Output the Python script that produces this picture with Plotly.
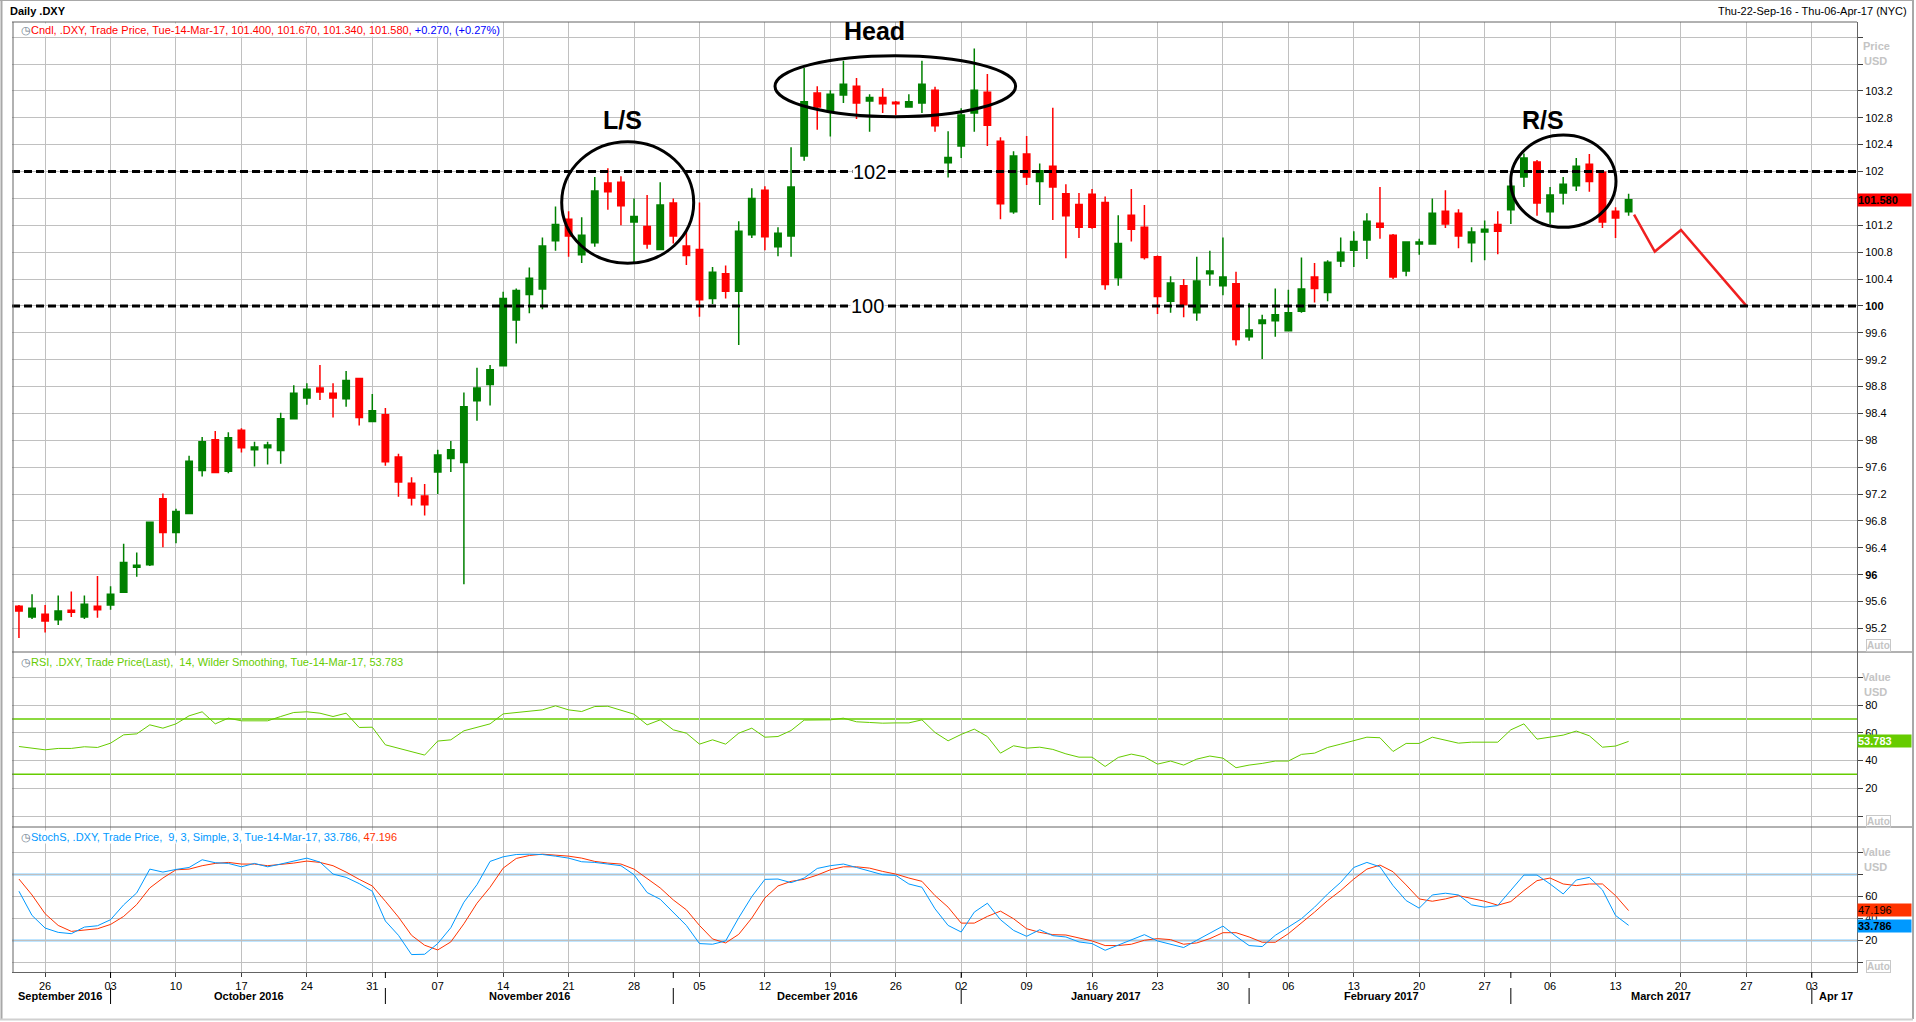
import pandas as pd
import plotly.graph_objects as go

# ---------------- data ----------------
dates = [
    "2016-09-22", "2016-09-23", "2016-09-26", "2016-09-27", "2016-09-28", "2016-09-29", "2016-09-30",
    "2016-10-03", "2016-10-04", "2016-10-05", "2016-10-06", "2016-10-07", "2016-10-10", "2016-10-11",
    "2016-10-12", "2016-10-13", "2016-10-14", "2016-10-17", "2016-10-18", "2016-10-19", "2016-10-20",
    "2016-10-21", "2016-10-24", "2016-10-25", "2016-10-26", "2016-10-27", "2016-10-28", "2016-10-31",
    "2016-11-01", "2016-11-02", "2016-11-03", "2016-11-04", "2016-11-07", "2016-11-08", "2016-11-09",
    "2016-11-10", "2016-11-11", "2016-11-14", "2016-11-15", "2016-11-16", "2016-11-17", "2016-11-18",
    "2016-11-21", "2016-11-22", "2016-11-23", "2016-11-24", "2016-11-25", "2016-11-28", "2016-11-29",
    "2016-11-30", "2016-12-01", "2016-12-02", "2016-12-05", "2016-12-06", "2016-12-07", "2016-12-08",
    "2016-12-09", "2016-12-12", "2016-12-13", "2016-12-14", "2016-12-15", "2016-12-16", "2016-12-19",
    "2016-12-20", "2016-12-21", "2016-12-22", "2016-12-23", "2016-12-26", "2016-12-27", "2016-12-28",
    "2016-12-29", "2016-12-30", "2017-01-02", "2017-01-03", "2017-01-04", "2017-01-05", "2017-01-06",
    "2017-01-09", "2017-01-10", "2017-01-11", "2017-01-12", "2017-01-13", "2017-01-16", "2017-01-17",
    "2017-01-18", "2017-01-19", "2017-01-20", "2017-01-23", "2017-01-24", "2017-01-25", "2017-01-26",
    "2017-01-27", "2017-01-30", "2017-01-31", "2017-02-01", "2017-02-02", "2017-02-03", "2017-02-06",
    "2017-02-07", "2017-02-08", "2017-02-09", "2017-02-10", "2017-02-13", "2017-02-14", "2017-02-15",
    "2017-02-16", "2017-02-17", "2017-02-20", "2017-02-21", "2017-02-22", "2017-02-23", "2017-02-24",
    "2017-02-27", "2017-02-28", "2017-03-01", "2017-03-02", "2017-03-03", "2017-03-06", "2017-03-07",
    "2017-03-08", "2017-03-09", "2017-03-10", "2017-03-13", "2017-03-14",
]

opens = [
    95.53, 95.37, 95.41, 95.33, 95.47, 95.37, 95.53, 95.55, 95.74, 96.11, 96.15, 97.13, 96.63, 96.91,
    97.55, 98.01, 97.54, 98.15, 97.86, 97.89, 97.85, 98.32, 98.63, 98.78, 98.70, 98.62, 98.92, 98.28,
    98.38, 97.75, 97.36, 97.17, 97.53, 97.73, 97.67, 98.59, 98.83, 99.11, 99.79, 100.17, 100.25, 100.97,
    101.29, 100.76, 100.94, 101.83, 101.84, 101.25, 101.18, 100.84, 101.53, 100.89, 100.84, 100.11,
    100.48, 100.22, 101.06, 101.72, 100.88, 101.04, 102.23, 103.17, 102.90, 103.14, 103.27, 103.05,
    103.10, 103.03, 102.96, 103.02, 103.21, 102.13, 102.38, 102.87, 103.18, 102.45, 101.40, 102.26,
    101.85, 102.08, 101.67, 101.51, 101.66, 101.54, 100.42, 101.35, 101.17, 100.73, 100.07, 100.30,
    99.90, 100.48, 100.30, 100.33, 99.54, 99.74, 99.78, 99.63, 99.92, 100.43, 100.20, 100.67, 100.83,
    100.98, 101.23, 101.05, 100.52, 100.92, 100.92, 101.41, 101.38, 100.94, 101.10, 101.21, 101.43,
    101.92, 102.14, 101.40, 101.68, 101.79, 102.11, 101.99, 101.41, 101.40,
]
highs = [
    95.55, 95.71, 95.55, 95.69, 95.75, 95.69, 95.98, 95.83, 96.46, 96.33, 96.79, 97.21, 96.98, 97.77,
    98.05, 98.14, 98.12, 98.18, 97.98, 97.98, 98.41, 98.82, 98.85, 99.12, 98.85, 99.03, 98.93, 98.69,
    98.48, 97.80, 97.45, 97.35, 97.86, 97.99, 98.71, 99.08, 99.12, 100.21, 100.26, 100.57, 101.02, 101.48,
    101.41, 101.32, 101.92, 102.05, 101.93, 101.60, 101.65, 101.84, 101.60, 101.10, 101.54, 100.58,
    100.60, 101.26, 101.75, 101.78, 101.17, 102.36, 103.54, 103.27, 103.21, 103.65, 103.39, 103.15,
    103.24, 103.05, 103.15, 103.65, 103.26, 102.60, 102.94, 103.83, 103.45, 102.51, 102.30, 102.53,
    102.12, 102.95, 101.81, 101.68, 101.74, 101.63, 101.35, 101.74, 101.50, 100.75, 100.44, 100.40,
    100.73, 100.82, 101.02, 100.51, 100.04, 99.87, 100.26, 100.24, 100.72, 100.64, 100.68, 101.02, 101.11,
    101.38, 101.77, 101.07, 100.96, 101.00, 101.60, 101.72, 101.44, 101.17, 101.27, 101.41, 101.80,
    102.27, 102.17, 101.77, 101.92, 102.20, 102.26, 102.01, 101.47, 101.67,
]
lows = [
    95.06, 95.34, 95.14, 95.25, 95.37, 95.34, 95.36, 95.48, 95.74, 95.97, 96.13, 96.41, 96.47, 96.91,
    97.46, 97.51, 97.51, 97.82, 97.61, 97.64, 97.65, 98.31, 98.53, 98.60, 98.34, 98.50, 98.22, 98.28,
    97.62, 97.16, 97.03, 96.88, 97.20, 97.53, 95.86, 98.29, 98.52, 99.11, 99.44, 99.89, 99.95, 100.82,
    100.73, 100.64, 100.88, 101.43, 101.20, 100.64, 100.85, 100.83, 100.93, 100.61, 99.84, 100.03,
    100.11, 99.42, 101.01, 100.83, 100.74, 100.73, 102.16, 102.62, 102.52, 103.02, 102.78, 102.59,
    102.87, 102.84, 102.95, 102.87, 102.59, 101.91, 102.20, 102.59, 102.38, 101.29, 101.37, 101.80,
    101.50, 101.28, 100.71, 101.01, 101.15, 100.24, 100.30, 100.96, 100.69, 99.88, 99.90, 99.83,
    99.78, 100.30, 100.16, 99.41, 99.48, 99.21, 99.54, 99.62, 99.90, 100.05, 100.07, 100.58, 100.58,
    100.70, 101.00, 100.40, 100.44, 100.76, 100.91, 101.16, 100.86, 100.65, 100.68, 100.77, 101.22,
    101.77, 101.34, 101.22, 101.51, 101.71, 101.70, 101.16, 101.01, 101.34,
]
closes = [
    95.46, 95.50, 95.31, 95.46, 95.44, 95.56, 95.48, 95.71, 96.18, 96.14, 96.78, 96.63, 96.94, 97.69,
    97.98, 97.52, 98.04, 97.89, 97.90, 97.93, 98.32, 98.70, 98.76, 98.72, 98.63, 98.89, 98.34, 98.44,
    97.68, 97.38, 97.14, 97.04, 97.78, 97.86, 98.50, 98.78, 99.05, 100.11, 100.23, 100.41, 100.89, 101.21,
    101.04, 101.05, 101.71, 101.70, 101.49, 101.33, 100.92, 101.50, 101.04, 100.75, 100.09, 100.50,
    100.22, 101.11, 101.60, 101.03, 101.08, 101.77, 103.04, 102.96, 103.15, 103.30, 103.02, 103.10,
    103.01, 103.01, 103.04, 103.30, 102.68, 102.21, 102.84, 103.21, 102.69, 101.52, 102.23, 101.92,
    102.01, 101.77, 101.34, 101.17, 101.17, 100.32, 100.93, 101.14, 100.72, 100.14, 100.34, 100.02,
    100.37, 100.52, 100.43, 99.50, 99.64, 99.79, 99.87, 99.90, 100.25, 100.26, 100.65, 100.80, 100.96,
    101.26, 101.17, 100.43, 100.95, 100.95, 101.38, 101.22, 101.04, 101.10, 101.14, 101.11, 101.78,
    102.20, 101.53, 101.65, 101.81, 102.08, 101.85, 101.25, 101.31, 101.58,
]

rsi = [
    50.1, 48.9, 47.7, 48.7, 48.7, 49.9, 49.4, 52.5, 58.5, 59.2,
    65.7, 63.3, 66.4, 72.2, 75.1, 66.4, 70.5, 68.6, 68.6, 68.6,
    71.7, 74.6, 75.1, 74.1, 71.7, 74.1, 63.8, 64.0, 51.3, 48.7,
    46.3, 43.9, 54.0, 54.9, 61.4, 63.8, 66.4, 73.6, 74.6, 75.1,
    76.5, 79.4, 76.5, 75.3, 78.9, 79.1, 76.0, 73.4, 65.7, 69.3,
    62.1, 59.7, 51.8, 54.9, 51.8, 59.7, 63.3, 56.8, 57.3, 61.6,
    69.1, 69.1, 69.3, 70.5, 67.9, 67.4, 66.9, 67.1, 67.1, 69.3,
    60.2, 54.2, 58.8, 62.6, 57.3, 45.3, 50.6, 48.9, 49.6, 48.0,
    44.8, 42.4, 42.4, 35.7, 42.2, 44.6, 42.7, 37.4, 39.6, 36.7,
    41.0, 43.2, 41.7, 34.8, 36.7, 37.9, 39.6, 39.6, 44.4, 45.3,
    49.4, 51.8, 54.2, 56.8, 56.4, 46.5, 52.3, 52.3, 56.8, 54.4,
    52.5, 53.2, 53.2, 53.2, 62.1, 66.4, 55.4, 56.8, 58.3, 61.2,
    57.8, 49.6, 50.4, 53.783,
]
stoch_k = [
    64.8, 42.8, 31.3, 27.4, 26.2, 32.2, 33.4, 38.9, 52.4, 63.3,
    84.9, 82.2, 84.6, 86.4, 93.4, 90.7, 90.1, 87.0, 90.1, 87.0,
    89.5, 92.2, 94.9, 91.3, 80.4, 77.4, 71.7, 64.8, 37.7, 24.7,
    7.2, 7.5, 17.2, 31.6, 54.8, 70.8, 91.9, 96.1, 98.2, 98.5,
    98.2, 96.7, 94.9, 91.6, 91.0, 89.5, 88.0, 79.8, 63.6, 57.5,
    45.2, 33.7, 17.2, 16.6, 19.6, 40.7, 59.9, 75.6, 75.9, 72.6,
    76.8, 85.5, 88.0, 89.5, 86.4, 83.4, 79.8, 79.2, 71.4, 68.4,
    48.8, 33.7, 27.7, 45.8, 53.9, 38.9, 29.2, 23.8, 29.8, 24.4,
    23.2, 18.7, 17.2, 11.1, 15.7, 20.8, 25.3, 19.6, 16.6, 13.6,
    20.2, 26.8, 33.1, 23.8, 15.4, 14.5, 24.7, 32.2, 39.8, 50.3,
    62.3, 72.9, 86.4, 91.0, 87.0, 69.9, 56.3, 49.4, 61.4, 63.0,
    61.4, 52.4, 50.3, 51.8, 66.0, 79.5, 79.5, 71.4, 62.3, 75.0,
    77.4, 66.0, 42.8, 33.786,
]
stoch_d = [
    75.9, 61.4, 44.3, 33.7, 28.3, 29.2, 30.7, 34.6, 41.9, 52.7,
    67.8, 76.8, 84.3, 84.9, 88.0, 90.1, 91.0, 89.5, 89.5, 88.0,
    88.9, 90.4, 92.2, 91.0, 88.0, 82.2, 75.6, 69.6, 55.7, 41.3,
    24.7, 15.7, 11.4, 18.7, 35.2, 53.9, 68.4, 85.8, 94.6, 97.3,
    98.5, 97.6, 96.7, 94.9, 91.9, 90.4, 89.5, 84.9, 76.5, 67.8,
    56.9, 47.9, 33.7, 21.4, 17.8, 25.6, 40.4, 58.7, 69.6, 73.8,
    75.6, 79.5, 84.3, 87.0, 87.0, 85.8, 82.8, 80.4, 76.8, 73.8,
    60.8, 50.3, 35.8, 35.8, 41.9, 46.7, 39.8, 30.7, 27.4, 25.3,
    25.0, 22.6, 19.6, 15.4, 15.4, 16.6, 20.2, 21.7, 20.8, 16.6,
    17.8, 21.7, 27.1, 27.1, 23.2, 18.4, 18.4, 26.2, 35.8, 45.8,
    56.3, 65.4, 75.9, 84.9, 88.6, 82.5, 70.5, 57.8, 55.7, 57.8,
    60.8, 58.4, 55.7, 52.1, 55.4, 65.4, 74.4, 76.8, 71.4, 69.9,
    71.4, 71.4, 60.8, 47.196,
]

proj_dates = ["2017-03-14 22:00", "2017-03-16 12:00", "2017-03-20 12:00", "2017-03-27 12:00"]
proj_values = [101.36, 100.81, 101.13, 100.00]

levels = [102, 100]
rsi_levels = [70, 30]
stoch_levels = [80, 20]

tick_dates = [
    "2016-09-26", "2016-10-03", "2016-10-10", "2016-10-17", "2016-10-24", "2016-10-31", "2016-11-07",
    "2016-11-14", "2016-11-21", "2016-11-28", "2016-12-05", "2016-12-12", "2016-12-19", "2016-12-26",
    "2017-01-02", "2017-01-09", "2017-01-16", "2017-01-23", "2017-01-30", "2017-02-06", "2017-02-13",
    "2017-02-20", "2017-02-27", "2017-03-06", "2017-03-13", "2017-03-20", "2017-03-27", "2017-04-03",
]
tick_labels = ["26", "03", "10", "17", "24", "31", "07", "14", "21", "28", "05", "12", "19", "26",
               "02", "09", "16", "23", "30", "06", "13", "20", "27", "06", "13", "20", "27", "03"]

month_starts = ["2016-10-03", "2016-11-01", "2016-12-01", "2017-01-02", "2017-02-01", "2017-03-01", "2017-04-03"]
month_names = ["September 2016", "October 2016", "November 2016", "December 2016",
               "January 2017", "February 2017", "March 2017", "Apr 17"]

price_ticks = [95.2, 95.6, 96.0, 96.4, 96.8, 97.2, 97.6, 98.0, 98.4, 98.8, 99.2, 99.6, 100.0,
               100.4, 100.8, 101.2, 101.6, 102.0, 102.4, 102.8, 103.2, 103.6, 104.0]
price_tick_text = ["95.2", "95.6", "<b>96</b>", "96.4", "96.8", "97.2", "97.6", "98", "98.4", "98.8",
                   "99.2", "99.6", "<b>100</b>", "100.4", "100.8", "101.2", "", "102", "102.4",
                   "102.8", "103.2", "", ""]
osc_ticks = [0, 20, 40, 60, 80, 100]
rsi_tick_text = ["", "20", "40", "60", "80", ""]
stoch_tick_text = ["", "20", "40", "60", "", ""]

# ---------------- geometry helpers (pixel -> paper) ----------------
W, H = 1916, 1022
L, R, T, B = 12, 1857, 22, 972


def fx(p):
    return (p - L) / (R - L)


def fy(p):
    return (B - p) / (B - T)


noon = pd.Timedelta(hours=12)
xd = pd.to_datetime(dates) + noon
xproj = pd.to_datetime(proj_dates)
xticks = pd.to_datetime(tick_dates) + noon
xmonth = pd.to_datetime(month_starts) + noon

FONT = "Liberation Sans, Arial, sans-serif"
GRID = "#c0c0c0"
FRAME = "#646464"
GREEN = "#008000"
RED = "#ff0000"
RSI_C = "#66cc00"
K_C = "#0099ff"
D_C = "#ff3300"

fig = go.Figure()
fig.add_trace(go.Candlestick(
    x=xd, open=opens, high=highs, low=lows, close=closes,
    increasing=dict(line=dict(color=GREEN, width=1.5), fillcolor=GREEN),
    decreasing=dict(line=dict(color=RED, width=1.5), fillcolor=RED),
    whiskerwidth=0, showlegend=False, hoverinfo="skip", xaxis="x", yaxis="y"))
fig.add_trace(go.Scatter(x=xproj, y=proj_values, mode="lines",
                         line=dict(color="#f02020", width=2.5), xaxis="x", yaxis="y",
                         showlegend=False, hoverinfo="skip"))
fig.add_trace(go.Scatter(x=xd, y=rsi, mode="lines", line=dict(color=RSI_C, width=1),
                         xaxis="x2", yaxis="y2", showlegend=False, hoverinfo="skip"))
fig.add_trace(go.Scatter(x=xd, y=stoch_d, mode="lines", line=dict(color=D_C, width=1),
                         xaxis="x3", yaxis="y3", showlegend=False, hoverinfo="skip"))
fig.add_trace(go.Scatter(x=xd, y=stoch_k, mode="lines", line=dict(color=K_C, width=1),
                         xaxis="x3", yaxis="y3", showlegend=False, hoverinfo="skip"))

xrange = [pd.Timestamp("2016-09-21 23:15"), pd.Timestamp("2017-04-06 22:50")]
xcommon = dict(type="date", range=xrange, rangebreaks=[dict(bounds=["sat", "mon"])],
               tickvals=xticks, ticktext=tick_labels, showgrid=True, gridcolor=GRID, gridwidth=1,
               zeroline=False, domain=[0, 1], fixedrange=True, rangeslider=dict(visible=False))
ycommon = dict(side="right", showgrid=True, gridcolor=GRID, gridwidth=1, zeroline=False,
               ticks="outside", ticklen=5, tickcolor="#404040", showline=True, linecolor=FRAME,
               linewidth=1, tickfont=dict(family=FONT, size=11, color="black"), fixedrange=True)

fig.update_layout(
    width=W, height=H, autosize=False,
    margin=dict(l=L, r=W - R, t=T, b=H - B, pad=0),
    paper_bgcolor="white", plot_bgcolor="white", showlegend=False,
    font=dict(family=FONT, size=11, color="black"),
    xaxis=dict(xcommon, anchor="y", showticklabels=False, ticks=""),
    xaxis2=dict(xcommon, anchor="y2", matches="x", showticklabels=False, ticks=""),
    xaxis3=dict(xcommon, anchor="y3", matches="x", showticklabels=True, ticks="outside",
                ticklen=4, tickcolor="#404040", showline=True, linecolor=FRAME,
                tickfont=dict(family=FONT, size=11, color="black")),
    yaxis=dict(ycommon, anchor="x", domain=[fy(652), 1], range=[94.85, 104.225],
               tickvals=price_ticks, ticktext=price_tick_text),
    yaxis2=dict(ycommon, anchor="x2", domain=[fy(827), fy(652)], range=[-7.93, 118.2],
                tickvals=osc_ticks, ticktext=rsi_tick_text),
    yaxis3=dict(ycommon, anchor="x3", domain=[0, fy(827)], range=[-8.64, 123.2],
                tickvals=osc_ticks, ticktext=stoch_tick_text),
)

shapes = []
# support / resistance levels
for lv in levels:
    shapes.append(dict(type="line", xref="x domain", yref="y", x0=0, x1=1, y0=lv, y1=lv,
                       line=dict(color="black", width=3, dash="8px,4px"), layer="above"))
for lv in rsi_levels:
    shapes.append(dict(type="line", xref="x2 domain", yref="y2", x0=0, x1=1, y0=lv, y1=lv,
                       line=dict(color=RSI_C, width=1.5), layer="below"))
for lv in stoch_levels:
    shapes.append(dict(type="line", xref="x3 domain", yref="y3", x0=0, x1=1, y0=lv, y1=lv,
                       line=dict(color=K_C, width=1.5), layer="below"))

# pattern ellipses (pixel geometry)
for (x0, x1, y0, y1) in [(561.7, 693.7, 141.7, 263.3), (775, 1015.6, 55.7, 116.7),
                         (1510.7, 1616, 135, 227.3)]:
    shapes.append(dict(type="circle", xref="paper", yref="paper", x0=fx(x0), x1=fx(x1),
                       y0=fy(y1), y1=fy(y0), line=dict(color="black", width=3), layer="above"))


def hline(yp, x0p, x1p, color=FRAME, width=1):
    shapes.append(dict(type="line", xref="paper", yref="paper", x0=fx(x0p), x1=fx(x1p),
                       y0=fy(yp), y1=fy(yp), line=dict(color=color, width=width), layer="above"))


def vline(xp, y0p, y1p, color=FRAME, width=1):
    shapes.append(dict(type="line", xref="paper", yref="paper", x0=fx(xp), x1=fx(xp),
                       y0=fy(y0p), y1=fy(y1p), line=dict(color=color, width=width), layer="above"))


hline(22, L, R)
hline(652, L, 1913)
hline(827, L, 1913)
vline(L + 1, 22, 972)
# outer window frame
vline(1.5, 0, 1019, color="#a8a8a8", width=2)
vline(1913, 0, 1019, color="#a8a8a8", width=2)
hline(0.5, 0, 1913, color="#a8a8a8", width=1)
hline(1019.5, 0, 1913, color="#d0d0d0", width=2)

# month separators on the date axis
for ms in xmonth:
    shapes.append(dict(type="line", xref="x3", yref="paper", x0=ms, x1=ms,
                       y0=fy(972), y1=fy(978), line=dict(color="black", width=1)))
    shapes.append(dict(type="line", xref="x3", yref="paper", x0=ms, x1=ms,
                       y0=fy(988), y1=fy(1004), line=dict(color="black", width=1)))

fig.update_layout(shapes=shapes)

anns = []


def ann(text, xp, yp, size=11, color="black", xanchor="left", yanchor="middle", **kw):
    d = dict(text=text, xref="paper", yref="paper", x=fx(xp), y=fy(yp), showarrow=False,
             xanchor=xanchor, yanchor=yanchor, font=dict(family=FONT, size=size, color=color))
    d.update(kw)
    anns.append(d)


ann("<b>Daily .DXY</b>", 8, 11, size=11)
ann("Thu-22-Sep-16 - Thu-06-Apr-17 (NYC)", 1909, 11, size=11, xanchor="right")

icon = '<span style="color:#6a7a8a">\u25f7</span>'
ann(icon + '<span style="color:#ff0000">Cndl, .DXY, Trade Price, Tue-14-Mar-17, 101.400, 101.670, '
    '101.340, 101.580, </span><span style="color:#0000ff">+0.270, (+0.27%)</span>',
    20, 30, size=11, bgcolor="white", borderpad=0)
ann(icon + '<span style="color:#66cc00">RSI, .DXY, Trade Price(Last),  14, Wilder Smoothing, '
    'Tue-14-Mar-17, 53.783</span>', 20, 662, size=11, bgcolor="white", borderpad=0)
ann(icon + '<span style="color:#0099ff">StochS, .DXY, Trade Price,  9, 3, Simple, 3, Tue-14-Mar-17, '
    '33.786, </span><span style="color:#ff3300">47.196</span>', 20, 837, size=11, bgcolor="white",
    borderpad=0)

# pattern labels
ann("<b>Head</b>", 874, 31, size=25, xanchor="center")
ann("<b>L/S</b>", 622, 120, size=25, xanchor="center")
ann("<b>R/S</b>", 1543, 120, size=25, xanchor="center")
ann("102", 869.7, 171.5, size=20, xanchor="center", bgcolor="white", borderpad=0)
ann("100", 867, 305.5, size=20, xanchor="center", bgcolor="white", borderpad=0)

# axis captions
GRAYTXT = "#c4c4c4"
ann("<b>Price</b>", 1876, 46, size=11, color=GRAYTXT, xanchor="center")
ann("<b>USD</b>", 1875, 61, size=11, color=GRAYTXT, xanchor="center")
ann("<b>Value</b>", 1876, 677, size=11, color=GRAYTXT, xanchor="center")
ann("<b>USD</b>", 1875, 692, size=11, color=GRAYTXT, xanchor="center")
ann("<b>Value</b>", 1876, 852, size=11, color=GRAYTXT, xanchor="center")
ann("<b>USD</b>", 1875, 867, size=11, color=GRAYTXT, xanchor="center")
for yp in [645, 821, 966]:
    ann("<b>Auto</b>", 1878, yp, size=10, color=GRAYTXT, xanchor="center",
        bordercolor="#c8c8c8", borderwidth=1, borderpad=0)

# month labels
ann("<b>" + month_names[0] + "</b>", 16, 996, size=11)
for name, xp in zip(month_names[1:7], [249, 529, 817.5, 1106, 1381, 1660.5]):
    ann("<b>" + name + "</b>", xp, 996, size=11, xanchor="center")
ann("<b>" + month_names[7] + "</b>", 1817, 996, size=11)


# last-value badges
def badge(text, yref, yval, bg, color):
    anns.append(dict(text=text, xref="paper", yref=yref, x=1.0, y=yval, showarrow=False,
                     xanchor="left", yanchor="middle", align="left", valign="middle",
                     width=53, height=12, bgcolor=bg, borderpad=0,
                     font=dict(family=FONT, size=11, color=color)))


badge("<b>%.3f</b>" % closes[-1], "y", closes[-1], "#ff0000", "black")
badge("<b>%.3f</b>" % rsi[-1], "y2", rsi[-1], RSI_C, "white")
badge("%.3f" % stoch_d[-1], "y3", stoch_d[-1] + 0.7, D_C, "black")
badge("<b>%.3f</b>" % stoch_k[-1], "y3", stoch_k[-1] - 0.7, K_C, "black")

fig.update_layout(annotations=anns)

fig.write_html("out.html", config={"displayModeBar": False},
               post_script="document.body.style.margin='0px';"
                           "document.body.style.overflow='hidden';")
